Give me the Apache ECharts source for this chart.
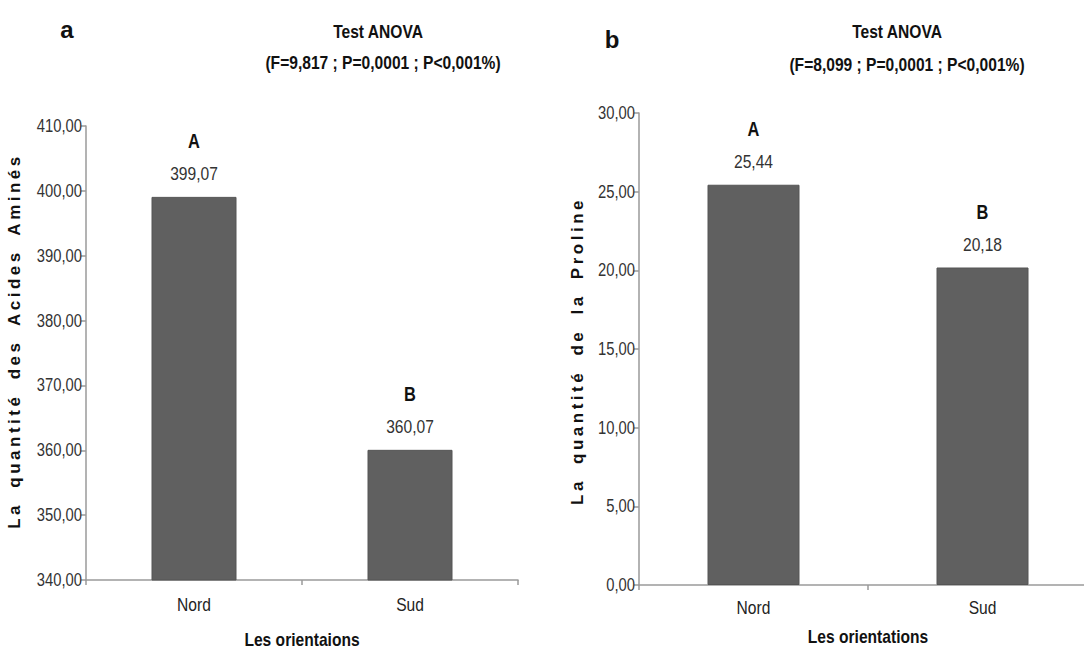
<!DOCTYPE html>
<html>
<head>
<meta charset="utf-8">
<script src="https://cdn.jsdelivr.net/npm/echarts@6/dist/echarts.min.js"></script>
<style>
  html, body { margin: 0; padding: 0; background: #fff; }
  #chart { width: 1084px; height: 651px; }
</style>
</head>
<body>
<div id="chart"></div>
<script>
// Orientation categories shared by both panels
const categories = ['Nord', 'Sud'];

// Panel a: amino acid content
const aminoValues = [399.07, 360.07];
const aminoGroups = ['A', 'B'];
const aminoAxis = { min: 340, max: 410, step: 10 };

// Panel b: proline content
const prolineValues = [25.44, 20.18];
const prolineGroups = ['A', 'B'];
const prolineAxis = { min: 0, max: 30, step: 5 };

// ANOVA results
const anovaA = '(F=9,817 ; P=0,0001 ; P<0,001%)';
const anovaB = '(F=8,099 ; P=0,0001 ; P<0,001%)';

// "Narrow" faces are not installed, so texts set in NARROW get squeezed after rendering
const NARROW = "'Liberation Sans Narrow', 'Liberation Sans', Arial, sans-serif";
const WIDE = "Arimo, 'Liberation Sans', Arial, sans-serif";
const SQUEEZE = 0.82;

const fmt = v => v.toFixed(2).replace('.', ',');

function yAxisOf(idx, range, name, gap) {
  return {
    type: 'value', gridIndex: idx,
    min: range.min, max: range.max, interval: range.step,
    name: name, nameLocation: 'middle', nameGap: gap,
    nameTextStyle: { fontFamily: WIDE, fontWeight: 'bold', fontSize: 17, color: '#111' },
    axisLine: { show: true, lineStyle: { color: '#9a9a9a', width: 1.5 } },
    axisTick: { show: true, length: 5, lineStyle: { color: '#9a9a9a', width: 1.5 } },
    axisLabel: { fontFamily: NARROW, fontSize: 18, color: '#333', margin: 4, formatter: v => fmt(v) },
    splitLine: { show: false }
  };
}

function xAxisOf(idx, name, gap, margin) {
  return {
    type: 'category', gridIndex: idx, data: categories,
    name: name, nameLocation: 'middle', nameGap: gap,
    nameTextStyle: { fontFamily: NARROW, fontWeight: 'bold', fontSize: 19, color: '#111' },
    axisLine: { show: true, lineStyle: { color: '#9a9a9a', width: 1.5 } },
    axisTick: { show: true, length: 5, interval: 0, lineStyle: { color: '#9a9a9a', width: 1.5 } },
    axisLabel: { fontFamily: NARROW, fontSize: 19, color: '#222', margin: margin }
  };
}

function barSeries(idx, values, groups, width) {
  return {
    type: 'bar', xAxisIndex: idx, yAxisIndex: idx,
    data: values, barWidth: width,
    itemStyle: { color: '#606060', borderColor: '#555', borderWidth: 1 },
    label: {
      show: true, position: 'top', distance: 13, align: 'center',
      formatter: p => '{g|' + groups[p.dataIndex] + '}\n{v|' + fmt(p.value) + '}',
      rich: {
        g: { fontFamily: NARROW, fontWeight: 'bold', fontSize: 20, color: '#111', lineHeight: 46 },
        v: { fontFamily: NARROW, fontSize: 19, color: '#333', lineHeight: 20 }
      }
    }
  };
}

function titleAt(text, x, y, family, size) {
  return { text: text, left: x, top: y, textAlign: 'center',
    textStyle: { fontFamily: family, fontWeight: 'bold', fontSize: size, color: '#111' } };
}

const chart = echarts.init(document.getElementById('chart'), null, { renderer: 'svg' });

chart.setOption({
  animation: false,
  backgroundColor: '#fff',
  title: [
    titleAt('a', 62, 12, WIDE, 24),
    titleAt('Test ANOVA', 373, 17, NARROW, 19),
    titleAt(anovaA, 378, 48, NARROW, 19),
    titleAt('b', 607, 22, WIDE, 24),
    titleAt('Test ANOVA', 892, 17, NARROW, 19),
    titleAt(anovaB, 902, 50, NARROW, 19)
  ],
  grid: [
    { left: 86, top: 126, width: 432, height: 454, containLabel: false, outerBoundsMode: 'none' },
    { left: 639, top: 113, width: 458, height: 472, containLabel: false, outerBoundsMode: 'none' }
  ],
  xAxis: [
    xAxisOf(0, 'Les orientaions', 50, 15),
    xAxisOf(1, 'Les orientations', 42, 13)
  ],
  yAxis: [
    yAxisOf(0, aminoAxis, 'La quantité des Acides Aminés', 58),
    yAxisOf(1, prolineAxis, 'La quantité de la Proline', 53)
  ],
  series: [
    barSeries(0, aminoValues, aminoGroups, 85),
    barSeries(1, prolineValues, prolineGroups, 92)
  ]
});

// Spacing and offset along the text for the vertical axis titles,
// condensed glyphs for the narrow texts
const spread = {
  'La quantité des Acides Aminés': { letter: 3.5, word: 6, shift: 12 },
  'La quantité de la Proline': { letter: 3.5, word: 6, shift: -2 }
};
document.querySelectorAll('#chart svg text').forEach(t => {
  const s = spread[t.textContent];
  if (s) {
    t.setAttribute('letter-spacing', s.letter + 'px');
    t.setAttribute('word-spacing', s.word + 'px');
    t.setAttribute('dx', s.shift);
    return;
  }
  const font = (t.getAttribute('style') || '') + ' ' + (t.getAttribute('font-family') || '');
  if (font.indexOf('Narrow') >= 0 && t.textContent.length) {
    const w = t.getComputedTextLength();
    t.setAttribute('textLength', (w * SQUEEZE).toFixed(2));
    t.setAttribute('lengthAdjust', 'spacingAndGlyphs');
  }
});
</script>
</body>
</html>
